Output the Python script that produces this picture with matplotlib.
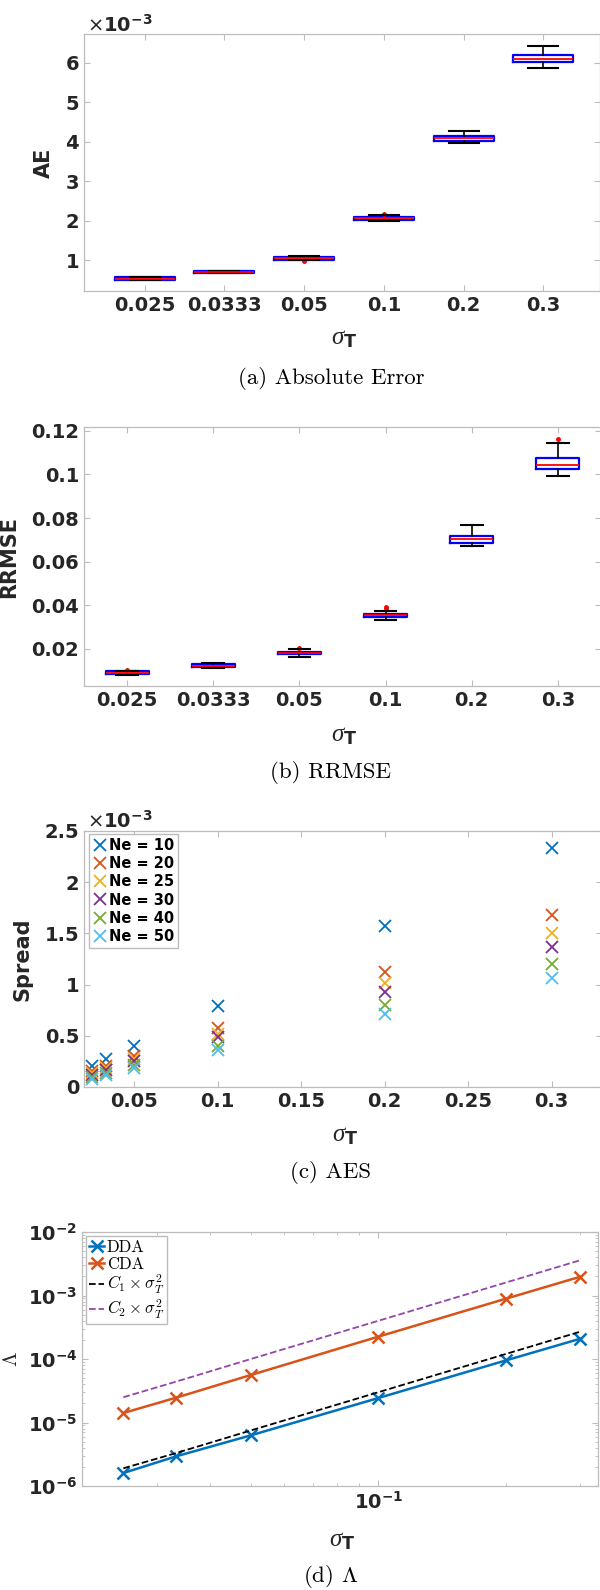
import numpy as np
import matplotlib
matplotlib.use("Agg")
from matplotlib import pyplot as plt
from matplotlib.ticker import FuncFormatter, NullFormatter

plt.rcParams['font.family'] = ['DejaVu Sans']
plt.rcParams['font.weight'] = 'bold'
plt.rcParams['axes.labelweight'] = 'bold'
plt.rcParams['mathtext.fontset'] = 'custom'
plt.rcParams['mathtext.rm'] = 'DejaVu Sans:weight=normal'
plt.rcParams['mathtext.bf'] = 'DejaVu Sans:weight=bold'
plt.rcParams['mathtext.it'] = 'Liberation Serif:style=italic:weight=normal'

# x categories
sigma_labels = ['0.025', '0.0333', '0.05', '0.1', '0.2', '0.3']
sigma = [0.025, 0.0333, 0.05, 0.1, 0.2, 0.3]

# (a) absolute error, units of 1e-3
ae_lo = [0.49, 0.67, 1.00, 1.98, 3.96, 5.88]
ae_q1 = [0.50, 0.68, 1.01, 2.02, 4.03, 6.02]
ae_med = [0.53, 0.70, 1.05, 2.06, 4.09, 6.09]
ae_q3 = [0.56, 0.72, 1.07, 2.09, 4.14, 6.21]
ae_hi = [0.57, 0.73, 1.10, 2.13, 4.26, 6.42]
ae_fliers = [[], [], [0.97], [2.16], [], []]

# (b) RRMSE
rr_lo = [0.0080, 0.0111, 0.0162, 0.0331, 0.0672, 0.0995]
rr_q1 = [0.0084, 0.0116, 0.0174, 0.0345, 0.0686, 0.1023]
rr_med = [0.0090, 0.0122, 0.0180, 0.0353, 0.0702, 0.1042]
rr_q3 = [0.0096, 0.0128, 0.0186, 0.0361, 0.0718, 0.1075]
rr_hi = [0.0100, 0.0134, 0.0197, 0.0374, 0.0766, 0.1146]
rr_fliers = [[0.0102], [], [0.0205], [0.0382, 0.0390], [], [0.1163]]

# (c) spread, units of 1e-3
ne_labels = ['Ne = 10', 'Ne = 20', 'Ne = 25', 'Ne = 30', 'Ne = 40', 'Ne = 50']
ne10 = [0.208, 0.277, 0.397, 0.788, 1.572, 2.334]
ne20 = [0.153, 0.208, 0.300, 0.576, 1.126, 1.680]
ne25 = [0.137, 0.186, 0.277, 0.520, 1.016, 1.507]
ne30 = [0.120, 0.163, 0.250, 0.485, 0.924, 1.370]
ne40 = [0.098, 0.137, 0.218, 0.400, 0.800, 1.198]
ne50 = [0.078, 0.117, 0.186, 0.358, 0.713, 1.064]

# (d) Lambda
dda = [1.60e-6, 2.93e-6, 6.28e-6, 2.43e-5, 9.5e-5, 2.09e-4]
cda = [1.41e-5, 2.46e-5, 5.6e-5, 2.25e-4, 8.9e-4, 1.98e-3]
c1_ref = [1.9e-6, 3.3e-6, 7.5e-6, 3.0e-5, 1.2e-4, 2.7e-4]
c2_ref = [2.5e-5, 4.4e-5, 1.0e-4, 4.0e-4, 1.6e-3, 3.6e-3]

mcolors = ['#0072BD', '#D95319', '#EDB120', '#7E2F8E', '#77AC30', '#4DBEEE']
spine_c = '#bcbcbc'
text_c = '#262626'
H = 1590.0


def style(ax):
  for s in ax.spines.values():
    s.set_color(spine_c)
    s.set_linewidth(0.9)
  ax.tick_params(which='both', direction='in', top=True, right=True,
                 color=spine_c, labelcolor=text_c, labelsize=14)
  ax.tick_params(which='major', length=4)
  ax.tick_params(which='minor', length=2.5)


def axpos(left, right, top, bottom):
  return [left/600., (H - bottom)/H, (right - left)/600., (bottom - top)/H]


def boxes(ax, lo, q1, med, q3, hi, fl, width):
  stats = []
  for i in range(len(med)):
    stats.append(dict(med=med[i], q1=q1[i], q3=q3[i], whislo=lo[i],
                      whishi=hi[i], fliers=fl[i]))
  ax.bxp(stats, positions=range(1, len(med)+1), widths=width,
         capwidths=width/2., showfliers=True,
         boxprops=dict(color='blue', lw=1.6, zorder=2),
         medianprops=dict(color='red', lw=1.3, zorder=4),
         whiskerprops=dict(color='black', lw=1.2),
         capprops=dict(color='black', lw=1.5, zorder=3),
         flierprops=dict(marker='o', markersize=2.5, markerfacecolor='red',
                         markeredgecolor='red', linestyle='none'))
  ax.set_xticks(range(1, len(med)+1), sigma_labels)


def xlabel(ax, ypos):
  ax.set_xlabel(r'$\sigma_{\mathbf{T}}$', fontsize=18, color=text_c)
  ax.xaxis.set_label_coords(0.504, ypos)
  ax.xaxis.label.set_va('center')


g = FuncFormatter(lambda v, p: '%g' % v)

fig = plt.figure(figsize=(6, 15.9), dpi=100)

# (a)
ax = fig.add_axes(axpos(84, 600, 34, 291))
boxes(ax, ae_lo, ae_q1, ae_med, ae_q3, ae_hi, ae_fliers, 0.75)
ax.set_xlim(0.24, 6.71)
ax.set_ylim(0.215, 6.73)
ax.set_yticks([1, 2, 3, 4, 5, 6])
ax.yaxis.set_major_formatter(g)
style(ax)
ax.set_ylabel('AE', fontsize=15, color=text_c)
ax.yaxis.set_label_coords(-0.059, 0.5)
xlabel(ax, -0.183)
fig.text(87/600., 1 - 25/H, r'$\times\mathbf{10^{-3}}$', fontsize=14,
         color=text_c, va='center', ha='left')

# (b)
ax = fig.add_axes(axpos(84, 601, 427, 686))
boxes(ax, rr_lo, rr_q1, rr_med, rr_q3, rr_hi, rr_fliers, 0.5)
ax.set_xlim(0.5, 6.5)
ax.set_ylim(0.0029, 0.1218)
ax.set_yticks([0.02, 0.04, 0.06, 0.08, 0.1, 0.12])
ax.yaxis.set_major_formatter(g)
style(ax)
ax.set_ylabel('RRMSE', fontsize=15, color=text_c)
ax.yaxis.set_label_coords(-0.126, 0.5)
xlabel(ax, -0.189)

# (c)
ax = fig.add_axes(axpos(84, 601.6, 831, 1087))
for ys, lab, c in zip([ne10, ne20, ne25, ne30, ne40, ne50], ne_labels, mcolors):
  ax.plot(sigma, ys, linestyle='none', marker='x', markersize=8,
          markeredgewidth=1.3, color=c, label=lab)
ax.set_xlim(0.02, 0.33)
ax.set_ylim(0, 2.5)
ax.set_xticks([0.05, 0.1, 0.15, 0.2, 0.25, 0.3])
ax.set_yticks([0, 0.5, 1, 1.5, 2, 2.5])
ax.xaxis.set_major_formatter(g)
ax.yaxis.set_major_formatter(g)
style(ax)
ax.set_ylabel('Spread', fontsize=15, color=text_c)
ax.yaxis.set_label_coords(-0.0997, 0.5)
xlabel(ax, -0.186)
leg = ax.legend(loc='upper left', bbox_to_anchor=(0.0097, 0.987),
                borderaxespad=0, fontsize=10.5, handlelength=1.0,
                handletextpad=0.15, labelspacing=0.22, borderpad=0.25,
                fancybox=False, framealpha=1, edgecolor=spine_c)
fig.text(87/600., 1 - 821/H, r'$\times\mathbf{10^{-3}}$', fontsize=14,
         color=text_c, va='center', ha='left')

# (d)
ax = fig.add_axes(axpos(82.3, 598, 1232, 1486))
ax.plot(sigma, dda, '-x', color=mcolors[0], lw=1.8, markersize=9,
        markeredgewidth=1.8, label='DDA')
ax.plot(sigma, cda, '-x', color=mcolors[1], lw=1.8, markersize=9,
        markeredgewidth=1.8, label='CDA')
ax.plot(sigma, c1_ref, '--', color='black', lw=1.3,
        label=r'$C_1 \times \sigma_T^2$')
ax.plot(sigma, c2_ref, '--', color='#9446A8', lw=1.3,
        label=r'$C_2 \times \sigma_T^2$')
ax.set_xscale('log')
ax.set_yscale('log')
ax.set_xlim(0.02, 0.33)
ax.set_ylim(1e-6, 1e-2)
pw = FuncFormatter(lambda v, p: r'$\mathbf{10^{%d}}$' % int(round(np.log10(v))))
ax.xaxis.set_major_formatter(pw)
ax.yaxis.set_major_formatter(pw)
ax.xaxis.set_minor_formatter(NullFormatter())
style(ax)
ax.set_ylabel(r'$\Lambda$', fontsize=15, color=text_c)
ax.yaxis.label.set_math_fontfamily('cm')
ax.yaxis.set_label_coords(-0.119, 0.5)
xlabel(ax, -0.213)
leg = ax.legend(loc='upper left', bbox_to_anchor=(0.007, 0.984),
                borderaxespad=0, handlelength=0.9, handletextpad=0.15,
                labelspacing=0.1, borderpad=0.2, fancybox=False,
                framealpha=1, edgecolor=spine_c,
                prop={'family': 'cmr10', 'size': 12, 'weight': 'normal'})
for t in leg.get_texts():
  t.set_math_fontfamily('cm')
  t.set_color('black')

# sub captions
caps = [('(a) Absolute Error', 378), ('(b) RRMSE', 772),
        ('(c) AES', 1173), (r'(d) $\Lambda$', 1577)]
for txt, yy in caps:
  t = fig.text(331/600., 1 - yy/H, txt, fontsize=16.5, family='cmr10',
               weight='normal', ha='center', va='center', color='black')
  t.set_math_fontfamily('cm')

fig.savefig('out.png', dpi=100)
